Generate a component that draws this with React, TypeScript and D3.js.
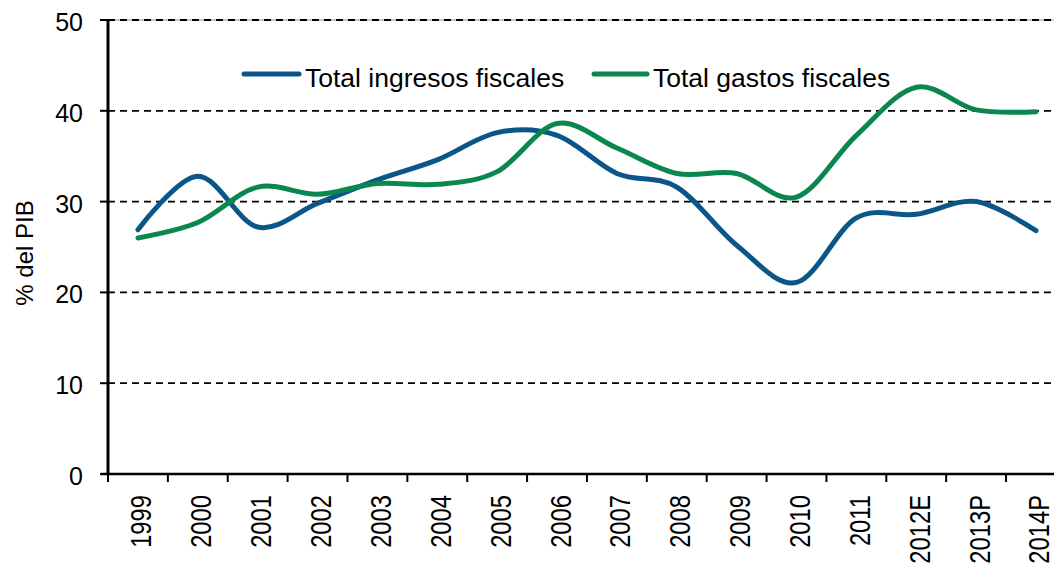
import React from 'react'
import * as d3 from 'd3'

const categories = ['1999', '2000', '2001', '2002', '2003', '2004', '2005', '2006', '2007', '2008', '2009', '2010', '2011', '2012E', '2013P', '2014P']
const ingresos = [26.9, 32.8, 27.2, 29.8, 32.4, 34.6, 37.6, 37.3, 33.1, 31.6, 25.2, 21.1, 28.2, 28.6, 30.0, 26.8]
const gastos = [26.0, 27.7, 31.6, 30.8, 32.0, 31.9, 33.3, 38.6, 35.9, 33.1, 33.1, 30.5, 37.3, 42.6, 40.1, 39.9]
const yTicks = [0, 10, 20, 30, 40, 50]
const seriesNames = ['Total ingresos fiscales', 'Total gastos fiscales']

const W = 1054
const H = 567
const left = 108
const top = 20
const bottom = 474
const band = 59.87

const BLUE = '#0B5689'
const GREEN = '#0A874E'
const FONT = '"Liberation Sans", Arial, sans-serif'

const App = () => {
  const x = d3.scaleBand().domain(categories).range([left, left + band * categories.length])
  const y = d3.scaleLinear().domain([0, 50]).range([bottom, top])
  const cx = (c) => x(c) + x.bandwidth() / 2

  const line = d3
    .line()
    .x((d) => cx(d[0]))
    .y((d) => y(d[1]))
    .curve(d3.curveCardinal.tension(0))

  const ingPath = line(categories.map((c, i) => [c, ingresos[i]]))
  const gasPath = line(categories.map((c, i) => [c, gastos[i]]))

  return (
    <div style={{ position: 'absolute', left: 0, top: 0 }}>
      <svg width={W} height={H} style={{ display: 'block', background: '#fff' }} fontFamily={FONT}>
        {/* grid */}
        <line x1={left} x2={W} y1={y(50)} y2={y(50)} stroke="#999" strokeWidth={1} />
        {yTicks.filter((t) => t > 0).map((t) => (
          <line key={t} x1={left} x2={W} y1={y(t)} y2={y(t)} stroke="#000" strokeWidth={1.8} strokeDasharray="7,5" />
        ))}

        {/* y axis */}
        <line x1={left} x2={left} y1={top} y2={bottom} stroke="#000" strokeWidth={3} />
        {yTicks.map((t) => (
          <g key={t}>
            <line x1={100} x2={left} y1={y(t)} y2={y(t)} stroke="#000" strokeWidth={2} />
            <text x={83} y={y(t) + 11} textAnchor="end" fontSize={25} fill="#000">{t}</text>
          </g>
        ))}
        <text transform="translate(33,253) rotate(-90)" textAnchor="middle" fontSize={24} fill="#000">% del PIB</text>

        {/* x axis */}
        <line x1={101} x2={W} y1={bottom} y2={bottom} stroke="#000" strokeWidth={2.5} />
        {categories.map((c) => (
          <g key={c}>
            <line x1={x(c)} x2={x(c)} y1={bottom} y2={bottom + 8} stroke="#000" strokeWidth={2} />
            <text
              transform={`translate(${cx(c) + 13.5},495) rotate(-90) scale(0.82,1)`}
              textAnchor="end"
              fontSize={29}
              fill="#000"
            >
              {c}
            </text>
          </g>
        ))}

        {/* series */}
        <path d={ingPath} fill="none" stroke={BLUE} strokeWidth={5} strokeLinecap="round" strokeLinejoin="round" />
        <path d={gasPath} fill="none" stroke={GREEN} strokeWidth={5} strokeLinecap="round" strokeLinejoin="round" />

        {/* legend */}
        <line x1={244} x2={299} y1={74} y2={74} stroke={BLUE} strokeWidth={5} strokeLinecap="round" />
        <text x={305} y={87} fontSize={26.5} fill="#000">{seriesNames[0]}</text>
        <line x1={594} x2={647} y1={74} y2={74} stroke={GREEN} strokeWidth={5} strokeLinecap="round" />
        <text x={653} y={87} fontSize={26.5} fill="#000">{seriesNames[1]}</text>
      </svg>
    </div>
  )
}

export default App
